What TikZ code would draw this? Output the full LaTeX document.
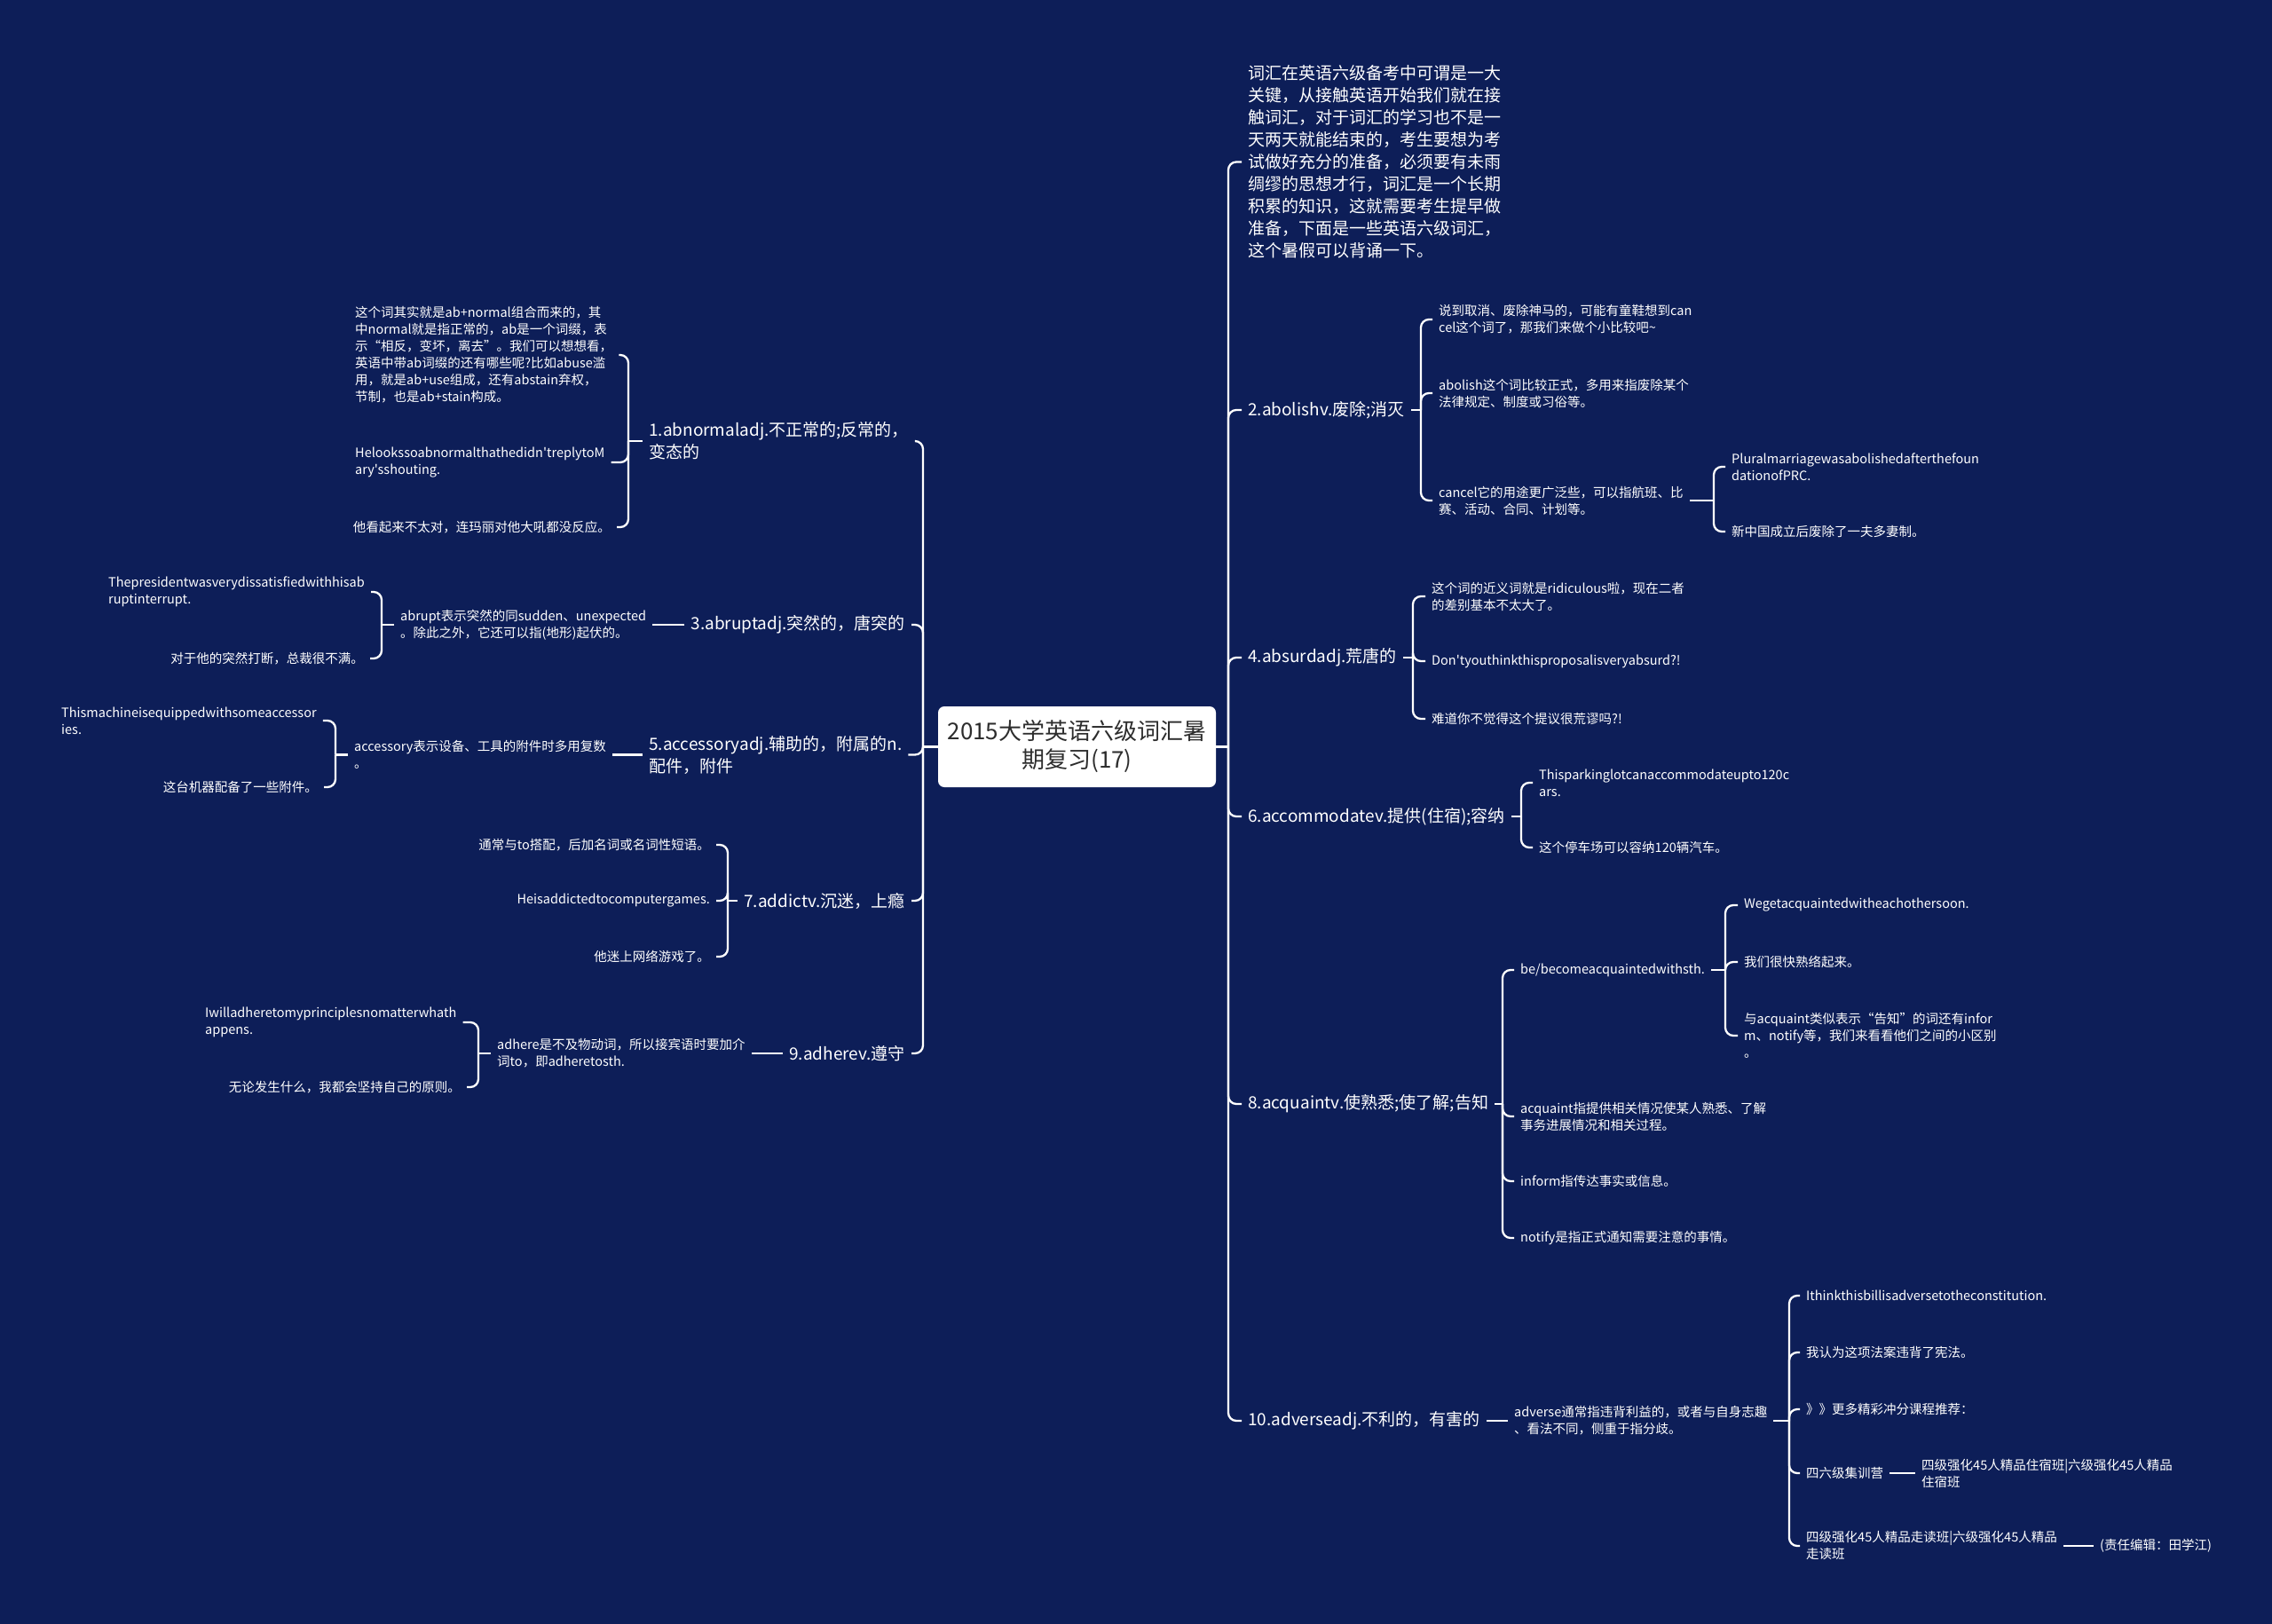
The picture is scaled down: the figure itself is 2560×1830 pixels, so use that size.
\documentclass[tikz,border=0pt]{standalone}
\usepackage{fontspec}
\setmainfont{Noto Sans CJK SC}[Ligatures=TeXOff]
\definecolor{bgnavy}{RGB}{13,30,88}
\definecolor{rootink}{RGB}{45,45,45}
\begin{document}
\begin{tikzpicture}[x=1pt,y=-1pt,
  conn/.style={draw=white, line width=2.3pt, rounded corners=9pt},
  lone/.style={text=white, font=\fontsize{19}{25}\selectfont, inner xsep=7pt, inner ysep=1pt, align=left},
  leaf/.style={text=white, font=\fontsize{14.5}{19}\selectfont, inner xsep=7pt, inner ysep=1pt, align=left},
  rootbox/.style={fill=white, rounded corners=7pt, minimum width=313pt, minimum height=91pt, text=rootink, font=\fontsize{26}{32}\selectfont, align=center, inner sep=0pt}
]
\useasboundingbox (0,0) rectangle (2560,1830);
\fill[bgnavy] (0,0) rectangle (2560,1830);

% root
\node[rootbox] (root) at (1213.5,841.5) {2015大学英语六级词汇暑\\期复习(17)};
\coordinate (rt) at (1384,841.5);
\coordinate (lt) at (1040,841.5);

% ---------------- right side ----------------
\node[lone, anchor=west] (R0) at (1399,182.5) {词汇在英语六级备考中可谓是一大\\关键，从接触英语开始我们就在接\\触词汇，对于词汇的学习也不是一\\天两天就能结束的，考生要想为考\\试做好充分的准备，必须要有未雨\\绸缪的思想才行，词汇是一个长期\\积累的知识，这就需要考生提早做\\准备，下面是一些英语六级词汇，\\这个暑假可以背诵一下。};
\node[lone, anchor=west] (R2) at (1399,462) {2.abolishv.废除;消灭};
\node[lone, anchor=west] (R4) at (1399,741) {4.absurdadj.荒唐的};
\node[lone, anchor=west] (R6) at (1399,920) {6.accommodatev.提供(住宿);容纳};
\node[lone, anchor=west] (R8) at (1399,1244) {8.acquaintv.使熟悉;使了解;告知};
\node[lone, anchor=west] (R10) at (1399,1601) {10.adverseadj.不利的，有害的};

% 2
\coordinate (b2) at (1601,462);
\node[leaf, anchor=west] (R2a) at (1614,360) {说到取消、废除神马的，可能有童鞋想到can\\cel这个词了，那我们来做个小比较吧{\char"7E}};
\node[leaf, anchor=west] (R2b) at (1614,443) {abolish这个词比较正式，多用来指废除某个\\法律规定、制度或习俗等。};
\node[leaf, anchor=west] (R2c) at (1614,564) {cancel它的用途更广泛些，可以指航班、比\\赛、活动、合同、计划等。};
\coordinate (b2c) at (1931,564);
\node[leaf, anchor=west] (R2c1) at (1944,526) {Pluralmarriagewasabolishedafterthefoun\\dationofPRC.};
\node[leaf, anchor=west] (R2c2) at (1944,599) {新中国成立后废除了一夫多妻制。};

% 4
\coordinate (b4) at (1592,741);
\node[leaf, anchor=west] (R4a) at (1606,672) {这个词的近义词就是ridiculous啦，现在二者\\的差别基本不太大了。};
\node[leaf, anchor=west] (R4b) at (1606,745) {Don'tyouthinkthisproposalisveryabsurd?!};
\node[leaf, anchor=west] (R4c) at (1606,810) {难道你不觉得这个提议很荒谬吗?!};

% 6
\coordinate (b6) at (1714,920);
\node[leaf, anchor=west] (R6a) at (1727,882) {Thisparkinglotcanaccommodateupto120c\\ars.};
\node[leaf, anchor=west] (R6b) at (1727,955) {这个停车场可以容纳120辆汽车。};

% 8
\coordinate (b8) at (1693,1244);
\node[leaf, anchor=west] (R8a) at (1706,1093) {be/becomeacquaintedwithsth.};
\node[leaf, anchor=west] (R8b) at (1706,1258) {acquaint指提供相关情况使某人熟悉、了解\\事务进展情况和相关过程。};
\node[leaf, anchor=west] (R8c) at (1706,1331) {inform指传达事实或信息。};
\node[leaf, anchor=west] (R8d) at (1706,1395) {notify是指正式通知需要注意的事情。};
\coordinate (b8a) at (1944,1093);
\node[leaf, anchor=west] (R8a1) at (1958,1020) {Wegetacquaintedwitheachothersoon.};
\node[leaf, anchor=west] (R8a2) at (1958,1084) {我们很快熟络起来。};
\node[leaf, anchor=west] (R8a3) at (1958,1167) {与acquaint类似表示“告知”的词还有infor\\m、notify等，我们来看看他们之间的小区别\\。};

% 10
\node[leaf, anchor=west] (R10c) at (1699,1601) {adverse通常指违背利益的，或者与自身志趣\\、看法不同，侧重于指分歧。};
\coordinate (b10) at (2016,1601);
\node[leaf, anchor=west] (R10c1) at (2028,1460) {Ithinkthisbillisadversetotheconstitution.};
\node[leaf, anchor=west] (R10c2) at (2028,1524) {我认为这项法案违背了宪法。};
\node[leaf, anchor=west] (R10c3) at (2028,1588) {》》更多精彩冲分课程推荐：};
\node[leaf, anchor=west] (R10c4) at (2028,1660) {四六级集训营};
\node[leaf, anchor=west] (R10c5) at (2028,1742) {四级强化45人精品走读班|六级强化45人精品\\走读班};
\node[leaf, anchor=west] (G4) at (2158,1660) {四级强化45人精品住宿班|六级强化45人精品\\住宿班};
\node[leaf, anchor=west] (G5) at (2359,1742) {(责任编辑：田学江)};

% ---------------- left side ----------------
\node[lone, anchor=west] (L1) at (724,497) {1.abnormaladj.不正常的;反常的，\\变态的};
\node[lone, anchor=east] (L3) at (1027,704) {3.abruptadj.突然的，唐突的};
\node[lone, anchor=west] (L5) at (724,850.5) {5.accessoryadj.辅助的，附属的n.\\配件，附件};
\node[lone, anchor=east] (L7) at (1027,1015) {7.addictv.沉迷，上瘾};
\node[lone, anchor=east] (L9) at (1027,1187) {9.adherev.遵守};

% 1
\coordinate (b1) at (708,497);
\node[leaf, anchor=west] (L1a) at (393,400) {这个词其实就是ab+normal组合而来的，其\\中normal就是指正常的，ab是一个词缀，表\\示“相反，变坏，离去”。我们可以想想看，\\英语中带ab词缀的还有哪些呢?比如abuse滥\\用，就是ab+use组成，还有abstain弃权，\\节制，也是ab+stain构成。};
\node[leaf, anchor=west] (L1b) at (393,521) {Helookssoabnormalthathedidn'treplytoM\\ary'sshouting.};
\node[leaf, anchor=east, align=right] (L1c) at (695,594) {他看起来不太对，连玛丽对他大吼都没反应。};

% 3
\node[leaf, anchor=west] (L3c) at (444,704) {abrupt表示突然的同sudden、unexpected\\。除此之外，它还可以指(地形)起伏的。};
\coordinate (b3) at (430,704);
\node[leaf, anchor=west] (L3a) at (115,667) {Thepresidentwasverydissatisfiedwithhisab\\ruptinterrupt.};
\node[leaf, anchor=east] (L3b) at (417,742) {对于他的突然打断，总裁很不满。};

% 5
\node[leaf, anchor=west] (L5c) at (392,850.5) {accessory表示设备、工具的附件时多用复数\\。};
\coordinate (b5) at (378,850.5);
\node[leaf, anchor=west] (L5a) at (62,812) {Thismachineisequippedwithsomeaccessor\\ies.};
\node[leaf, anchor=east] (L5b) at (365,887) {这台机器配备了一些附件。};

% 7
\coordinate (b7) at (820,1015);
\node[leaf, anchor=east] (L7a) at (807,952) {通常与to搭配，后加名词或名词性短语。};
\node[leaf, anchor=east] (L7b) at (807,1015) {Heisaddictedtocomputergames.};
\node[leaf, anchor=east] (L7c) at (807,1078) {他迷上网络游戏了。};

% 9
\node[leaf, anchor=west] (L9c) at (553,1187) {adhere是不及物动词，所以接宾语时要加介\\词to，即adheretosth.};
\coordinate (b9) at (539,1187);
\node[leaf, anchor=west] (L9a) at (224,1152) {Iwilladheretomyprinciplesnomatterwhath\\appens.};
\node[leaf, anchor=east] (L9b) at (526,1225) {无论发生什么，我都会坚持自己的原则。};

% ---------------- connectors ----------------
\draw[conn] (root.east) -- (rt);
\foreach \c in {R0,R2,R4,R6,R8,R10} \draw[conn] (rt) |- (\c.west);
\draw[conn] (R2.east) -- (b2);
\foreach \c in {R2a,R2b,R2c} \draw[conn] (b2) |- (\c.west);
\draw[conn] (R2c.east |- b2c) -- (b2c);
\foreach \c in {R2c1,R2c2} \draw[conn] (b2c) |- (\c.west);
\draw[conn] (R4.east) -- (b4);
\foreach \c in {R4a,R4b,R4c} \draw[conn] (b4) |- (\c.west);
\draw[conn] (R6.east) -- (b6);
\foreach \c in {R6a,R6b} \draw[conn] (b6) |- (\c.west);
\draw[conn] (R8.east) -- (b8);
\foreach \c in {R8a,R8b,R8c,R8d} \draw[conn] (b8) |- (\c.west);
\draw[conn] (R8a.east) -- (b8a);
\foreach \c in {R8a1,R8a2,R8a3} \draw[conn] (b8a) |- (\c.west);
\draw[conn] (R10.east) -- (R10c.west);
\draw[conn] (R10c.east) -- (b10);
\foreach \c in {R10c1,R10c2,R10c3,R10c4,R10c5} \draw[conn] (b10) |- (\c.west);
\draw[conn] (R10c4.east) -- (R10c4.east -| G4.west);
\draw[conn] (R10c5.east) -- (R10c5.east -| G5.west);

\draw[conn] (root.west) -- (lt);
\foreach \c in {L1,L3,L5,L7,L9} \draw[conn] (lt) |- (\c.east);
\draw[conn] (L1.west) -- (b1);
\foreach \c in {L1a,L1b,L1c} \draw[conn] (b1) |- (\c.east);
\draw[conn] (L3.west) -- (L3c.east);
\draw[conn] (L3c.west) -- (b3);
\foreach \c in {L3a,L3b} \draw[conn] (b3) |- (\c.east);
\draw[conn] (L5.west) -- (L5c.east);
\draw[conn] (L5c.west) -- (b5);
\foreach \c in {L5a,L5b} \draw[conn] (b5) |- (\c.east);
\draw[conn] (L7.west) -- (b7);
\foreach \c in {L7a,L7b,L7c} \draw[conn] (b7) |- (\c.east);
\draw[conn] (L9.west) -- (L9c.east);
\draw[conn] (L9c.west) -- (b9);
\foreach \c in {L9a,L9b} \draw[conn] (b9) |- (\c.east);
\end{tikzpicture}
\end{document}
